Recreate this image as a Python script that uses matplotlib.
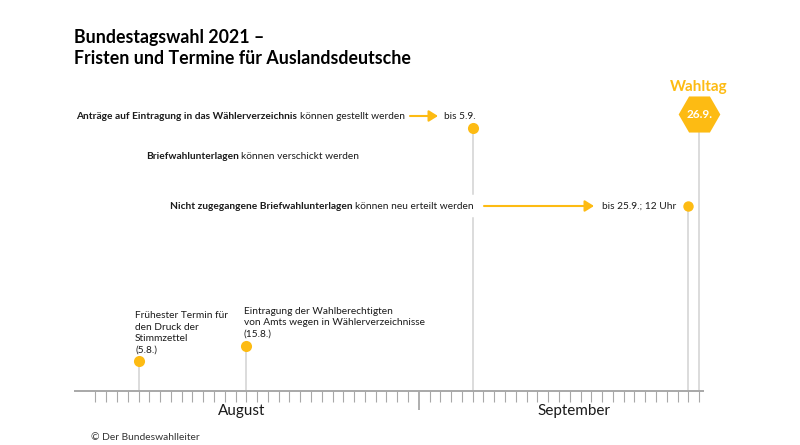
import matplotlib
matplotlib.use("Agg")
import matplotlib.pyplot as plt

plt.rcParams["font.family"] = "Lato"

# Tage als fortlaufende Nummer: 1 = 1. August, 32 = 1. September
DAYS_IN_AUGUST = 31
last_day = DAYS_IN_AUGUST + 26

title = "Bundestagswahl 2021 –\nFristen und Termine für Auslandsdeutsche"
credit = "© Der Bundeswahlleiter"

month_names = ["August", "September"]
month_centers = [14.6, 45.4]

early_days = [5, 15]
early_labels = [
    "Frühester Termin für\nden Druck der\nStimmzettel\n(5.8.)",
    "Eintragung der Wahlberechtigten\nvon Amts wegen in Wählerverzeichnisse\n(15.8.)",
]

deadline_bold = [
    "Anträge auf Eintragung in das Wählerverzeichnis",
    "Briefwahlunterlagen",
    "Nicht zugegangene Briefwahlunterlagen",
]
deadline_plain = [
    "können gestellt werden",
    "können verschickt werden",
    "können neu erteilt werden",
]
first_deadline = DAYS_IN_AUGUST + 5
second_deadline = DAYS_IN_AUGUST + 25
election_day = DAYS_IN_AUGUST + 26

YELLOW = "#fdbb13"
GREY = "#d2d2d2"
AXIS = "#a8a8a8"
TEXT = "#1a1a1a"
SMALL = 7.3

fig = plt.figure(figsize=(8, 4.45), dpi=100)
ax = fig.add_axes([0, 0, 1, 1])
# x in Tagen, y in Pixeln von oben
ORIGIN = 95.4
STEP = 10.78
ax.set_xlim(1 - ORIGIN / STEP, 1 + (800 - ORIGIN) / STEP)
ax.set_ylim(445, 0)
ax.axis("off")

AXIS_Y = 391


def xpos(pixel):
    return 1 + (pixel - ORIGIN) / STEP


# Zeitachse
ax.plot([xpos(74), xpos(704)], [AXIS_Y, AXIS_Y], color=AXIS, lw=1.4, solid_capstyle="butt", zorder=2)
for day in range(1, last_day + 1):
    bottom = 410 if day == DAYS_IN_AUGUST else 402
    lw = 1.3 if day == DAYS_IN_AUGUST else 0.8
    ax.plot([day, day], [AXIS_Y, bottom], color=AXIS, lw=lw, solid_capstyle="butt", zorder=2)
for name, center in zip(month_names, month_centers):
    ax.text(center, 411, name, ha="center", va="center", fontsize=11, color=TEXT)

# frühe Termine
early_tops = [361, 346]
text_bottoms = [355, 339]
text_lefts = [135, 244]
for day, label, top, bottom, left in zip(early_days, early_labels, early_tops, text_bottoms, text_lefts):
    ax.plot([day, day], [top, AXIS_Y], color=GREY, lw=1.1, zorder=1)
    ax.plot(day, top, "o", color=YELLOW, ms=8, mew=0, zorder=3)
    ax.text(xpos(left), bottom, label, ha="left", va="bottom", fontsize=SMALL, color=TEXT, linespacing=1.38)

# Fristen
ax.plot([first_deadline] * 2, [128, 194], color=GREY, lw=1.1, zorder=1)
ax.plot([first_deadline] * 2, [218, AXIS_Y], color=GREY, lw=1.1, zorder=1)
ax.plot(first_deadline, 128, "o", color=YELLOW, ms=8, mew=0, zorder=3)
ax.plot([second_deadline] * 2, [206, AXIS_Y], color=GREY, lw=1.1, zorder=1)
ax.plot(second_deadline, 206, "o", color=YELLOW, ms=7.5, mew=0, zorder=3)

row_lefts = [76.5, 146, 170.5]
row_ys = [119, 159, 209]
renderer = fig.canvas.get_renderer()
for bold, plain, left, y in zip(deadline_bold, deadline_plain, row_lefts, row_ys):
    t = ax.text(xpos(left), y, bold, ha="left", va="baseline", fontsize=SMALL, fontweight="bold", color=TEXT)
    end = t.get_window_extent(renderer).x1
    ax.text(xpos(end + 2), y, plain, ha="left", va="baseline", fontsize=SMALL, color=TEXT)

arrow_style = dict(arrowstyle="-|>,head_length=0.45,head_width=0.28", color=YELLOW, lw=1.5,
                   shrinkA=0, shrinkB=0, mutation_scale=12)
ax.annotate("", xy=(xpos(438), 116), xytext=(xpos(410), 116), arrowprops=arrow_style)
ax.annotate("", xy=(xpos(594), 206), xytext=(xpos(484), 206), arrowprops=arrow_style)
ax.text(xpos(444), 119, "bis 5.9.", ha="left", va="baseline", fontsize=SMALL, color=TEXT)
ax.text(xpos(602), 209, "bis 25.9.; 12 Uhr", ha="left", va="baseline", fontsize=SMALL, color=TEXT)

# Wahltag
ax.plot([election_day] * 2, [130, AXIS_Y], color=GREY, lw=1.1, zorder=1)
ax.plot(election_day, 114, "H", color=YELLOW, ms=30, mew=0, zorder=3)
ax.text(election_day, 114, "26.9.", ha="center", va="center_baseline", fontsize=8.5, fontweight="bold",
        color="white", zorder=4)
ax.text(election_day, 85, "Wahltag", ha="center", va="center_baseline", fontsize=11, fontweight="bold", color=YELLOW)

fig.text(74 / 800, 1 - 67 / 445, title, ha="left", va="bottom", fontsize=12.75, fontweight="bold",
         color="black", linespacing=1.27)
fig.text(91 / 800, 1 - 436 / 445, credit, ha="left", va="center_baseline", fontsize=7.4, color="#333333")

fig.savefig("out.png", dpi=100)
